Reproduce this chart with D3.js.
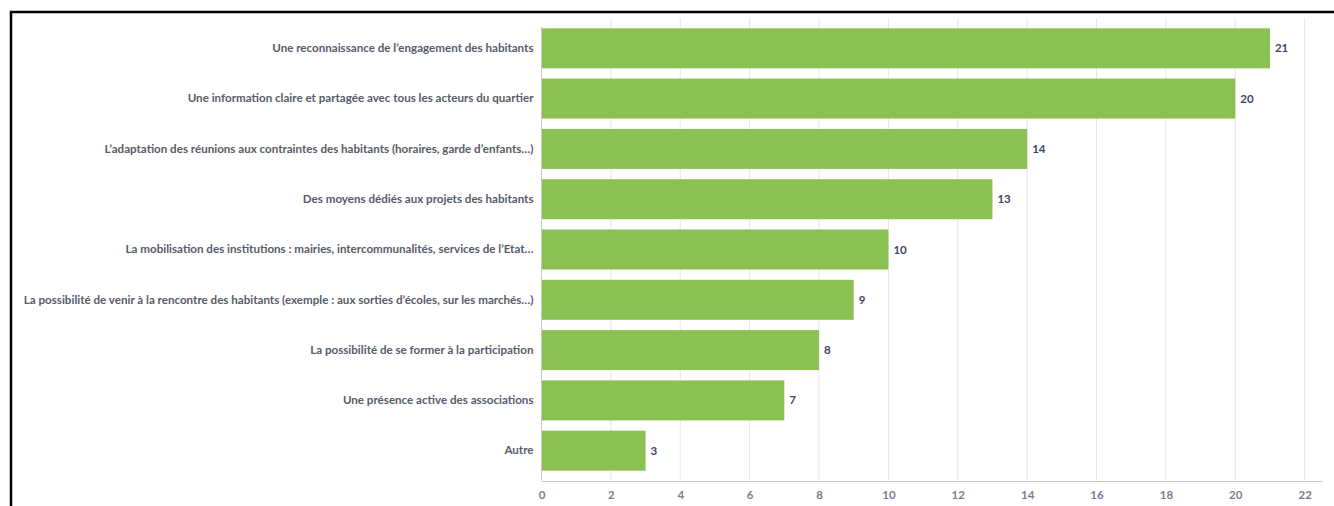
<!DOCTYPE html>
<html>
<head>
<meta charset="utf-8">
<script src="https://cdn.jsdelivr.net/npm/d3@7"></script>
<style>
  body { margin: 0; background: #fff; }
  svg { display: block; font-family: Lato, "Open Sans", sans-serif; }
</style>
</head>
<body>
<svg id="chart" width="1334" height="506"></svg>
<script>
// answers, in display order
var categories = [
  "Une reconnaissance de l\u2019engagement des habitants",
  "Une information claire et partag\u00e9e avec tous les acteurs du quartier",
  "L\u2019adaptation des r\u00e9unions aux contraintes des habitants (horaires, garde d\u2019enfants\u2026)",
  "Des moyens d\u00e9di\u00e9s aux projets des habitants",
  "La mobilisation des institutions : mairies, intercommunalit\u00e9s, services de l\u2019Etat\u2026",
  "La possibilit\u00e9 de venir \u00e0 la rencontre des habitants (exemple : aux sorties d\u2019\u00e9coles, sur les march\u00e9s\u2026)",
  "La possibilit\u00e9 de se former \u00e0 la participation",
  "Une pr\u00e9sence active des associations",
  "Autre"
];
var counts = [21, 20, 14, 13, 10, 9, 8, 7, 3];
var xTicks = [0, 2, 4, 6, 8, 10, 12, 14, 16, 18, 20, 22];

(function() {
  var svg = d3.select('#chart');
  var plotLeft = 541.5, plotRight = 1322, plotTop = 18, plotBottom = 481;

  // frame round the picture (top and left side only visible)
  svg.append('rect')
    .attr('x', 11).attr('y', 12)
    .attr('width', 1400).attr('height', 600)
    .attr('fill', 'none').attr('stroke', '#000').attr('stroke-width', 2.5);

  var x = d3.scaleLinear().domain([0, 22.5]).range([plotLeft, plotRight]);
  var y = d3.scaleBand().domain(categories).range([plotTop, plotBottom])
    .paddingInner(0.205).paddingOuter(0.205);

  // vertical grid
  svg.append('g').selectAll('line')
    .data(xTicks.slice(1)).enter().append('line')
    .attr('x1', function(d) { return x(d); })
    .attr('x2', function(d) { return x(d); })
    .attr('y1', plotTop).attr('y2', plotBottom)
    .attr('stroke', '#e6e6ea').attr('stroke-width', 1);

  svg.append('g').selectAll('rect')
    .data(counts).enter().append('rect')
    .attr('x', x(0))
    .attr('y', function(d, i) { return y(categories[i]); })
    .attr('width', function(d) { return x(d) - x(0); })
    .attr('height', y.bandwidth())
    .attr('fill', '#8bc052');

  // value labels
  svg.append('g').selectAll('text')
    .data(counts).enter().append('text')
    .attr('x', function(d) { return x(d) + 5; })
    .attr('y', function(d, i) { return y(categories[i]) + y.bandwidth() / 2; })
    .attr('dy', '0.35em')
    .attr('fill', '#3d4468').attr('font-size', 11.5).attr('font-weight', 'bold')
    .text(function(d) { return d; });

  // category axis
  var yAxis = svg.append('g').attr('transform', 'translate(' + plotLeft + ',0)')
    .call(d3.axisLeft(y).tickSize(0).tickPadding(8));
  yAxis.select('.domain').remove();
  yAxis.selectAll('text')
    .attr('fill', '#575b6a').attr('font-size', 11.6).attr('font-weight', 'bold')
    .style('font-family', 'Lato, sans-serif');
  svg.append('line')
    .attr('x1', plotLeft).attr('x2', plotLeft).attr('y1', 27).attr('y2', plotBottom)
    .attr('stroke', '#c3c6d3').attr('stroke-width', 1);

  // value axis
  var xAxis = svg.append('g').attr('transform', 'translate(0,' + plotBottom + ')')
    .call(d3.axisBottom(x).tickValues(xTicks).tickSize(0).tickPadding(10));
  xAxis.select('.domain').attr('stroke', '#c3c6d3');
  xAxis.selectAll('text')
    .attr('fill', '#7a7e8c').attr('font-size', 11.5).attr('font-weight', 'bold')
    .style('font-family', 'Lato, sans-serif');
})();
</script>
</body>
</html>
